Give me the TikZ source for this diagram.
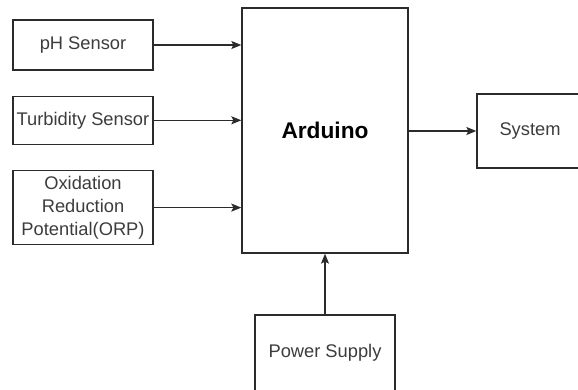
\documentclass[tikz,border=0pt]{standalone}
\usepackage{fontspec}
\setmainfont{Liberation Sans}
\usetikzlibrary{positioning, arrows.meta}
\definecolor{clrborder}{HTML}{2B2B2B}
\definecolor{clrtext}{HTML}{3C3C3C}

\begin{document}
\begin{tikzpicture}[
    >={Stealth[length=10pt, width=8pt, inset=2pt]},
    every node/.style={font=\fontsize{18.3pt}{23pt}\selectfont},
    block/.style={draw=clrborder, line width=1.3pt, inner sep=0pt, minimum width=140pt,
                  text=clrtext, align=center},
    arrow/.style={->, color=clrborder, line width=1.4pt},
]
\useasboundingbox (0,0) rectangle (578pt,-389pt);
\node[block, minimum height=50pt] (n_ph) at (83pt,-45pt) {pH Sensor};
\node[block, minimum height=48pt, below=25pt of n_ph] (n_turb) {Turbidity Sensor};
\node[block, minimum height=74pt, below=25pt of n_turb] (n_orp) {Oxidation\\Reduction\\Potential(ORP)};
\node[block, minimum width=166pt, minimum height=245pt, text=black,
      font=\fontsize{22.7pt}{27pt}\selectfont\bfseries] (n_ard) at (325pt,-130.5pt) {Arduino};
\node[block, minimum width=106pt, minimum height=74pt] (n_sys) at (530pt,-131pt) {System};
\node[block, minimum height=76pt] (n_pwr) at (325pt,-353pt) {Power Supply};
\draw[arrow] (n_ph.east) -- (n_ph.east -| n_ard.west);
\draw[arrow] (n_turb.east) -- (n_turb.east -| n_ard.west);
\draw[arrow] (n_orp.east) -- (n_orp.east -| n_ard.west);
\draw[arrow] (n_ard.east |- n_sys.west) -- (n_sys.west);
\draw[arrow] (n_pwr.north) -- (n_ard.south);
\end{tikzpicture}
\end{document}
